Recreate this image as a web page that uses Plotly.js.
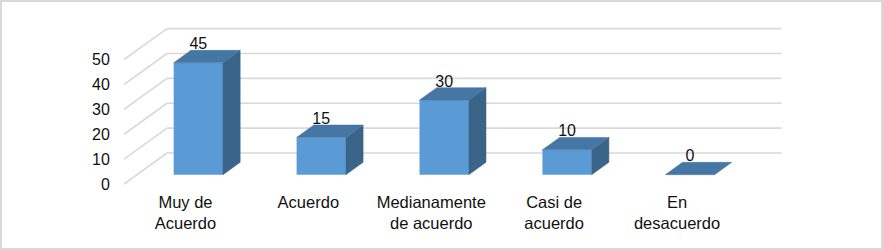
<!DOCTYPE html>
<html><head><meta charset="utf-8">
<script src="https://cdn.plot.ly/plotly-3.0.0.min.js"></script>
<style>html,body{margin:0;padding:0;background:#fff}#wrap{position:relative;width:883px;height:250px}
#c{width:883px;height:250px}#f{position:absolute;left:0;top:0;width:883px;height:250px;box-sizing:border-box;border:2px solid #d9d9d9;pointer-events:none}</style>
</head><body><div id="wrap"><div id="c"></div><div id="f"></div></div>
<script>
const categories = ["Muy de<br>Acuerdo","Acuerdo","Medianamente<br>de acuerdo","Casi de<br>acuerdo","En<br>desacuerdo"];
const values = [45,15,30,10,0];
const yTicks = [0,10,20,30,40,50];

// oblique projection of the 3-D box: depth 0 = front plane, 1 = back wall
const DX = 0.35, DY = 12.45, NEAR = 0.3, FAR = 0.7, BAR_W = 0.401;
const FONT = "Liberation Sans, Arial, sans-serif";
const px = (c,d) => c + d*DX;
const py = (v,d) => v + d*DY;
const xEnd = 4.5 + DX;

const gridShapes = [];
yTicks.forEach(t=>{
  gridShapes.push({type:'line',layer:'below',xref:'x',yref:'y',x0:-0.5,y0:t,x1:px(-0.5,1),y1:py(t,1),line:{color:'#d9d9d9',width:1.6}});
  gridShapes.push({type:'line',layer:'below',xref:'x',yref:'y',x0:px(-0.5,1),y0:py(t,1),x1:xEnd,y1:py(t,1),line:{color:'#d9d9d9',width:1.6}});
});

const topX=[],topY=[],sideX=[],sideY=[];
categories.forEach((_,i)=>{
  const v=values[i], l=i-BAR_W/2, r=i+BAR_W/2;
  topX.push(px(l,NEAR),px(r,NEAR),px(r,FAR),px(l,FAR),px(l,NEAR),null);
  topY.push(py(v,NEAR),py(v,NEAR),py(v,FAR),py(v,FAR),py(v,NEAR),null);
  if(v>0){
    sideX.push(px(r,NEAR),px(r,FAR),px(r,FAR),px(r,NEAR),px(r,NEAR),null);
    sideY.push(py(0,NEAR),py(0,FAR),py(v,FAR),py(v,NEAR),py(0,NEAR),null);
  }
});

const traces=[
 {type:'bar',x:categories.map((_,i)=>px(i,NEAR)),y:values,base:py(0,NEAR),width:BAR_W,
  marker:{color:'#5b9bd5',line:{width:0}},hoverinfo:'skip'},
 {type:'scatter',mode:'lines',x:sideX,y:sideY,fill:'toself',fillcolor:'#3a6488',line:{width:0.5,color:'#3a6488'},hoverinfo:'skip'},
 {type:'scatter',mode:'lines',x:topX,y:topY,fill:'toself',fillcolor:'#4676a3',line:{width:0.5,color:'#4676a3'},hoverinfo:'skip'},
 {type:'scatter',mode:'text',x:categories.map((_,i)=>px(i,NEAR)),y:values.map(v=>py(v,NEAR)+7.0),
  text:values.map(String),textposition:'middle center',textfont:{family:FONT,size:16,color:'#111111'},cliponaxis:false,hoverinfo:'skip'}
];

const L=124,R=790,T=20,B=190,X0=184,S=2.488,CW=122.9;
const layout={
 width:883,height:250,showlegend:false,paper_bgcolor:'#fff',plot_bgcolor:'rgba(0,0,0,0)',
 margin:{l:L,r:883-R,t:T,b:250-B,pad:0},
 font:{family:FONT,color:'#111111',size:16},
 xaxis:{range:[-0.5,-0.5+(R-L)/CW],tickmode:'array',tickvals:categories.map((_,i)=>i),ticktext:categories,tickangle:0,
   showgrid:false,zeroline:false,showline:false,ticks:'',tickfont:{family:FONT,size:16.5,color:'#111111'}},
 yaxis:{range:[(X0-B)/S,(X0-T)/S],tickmode:'array',tickvals:yTicks,ticktext:yTicks.map(String),
   showgrid:false,zeroline:false,showline:false,ticks:'outside',ticklen:10,tickcolor:'rgba(0,0,0,0)',tickfont:{family:FONT,size:16,color:'#111111'}},
 shapes:gridShapes
};
Plotly.newPlot('c',traces,layout,{displayModeBar:false,staticPlot:true});
</script></body></html>
